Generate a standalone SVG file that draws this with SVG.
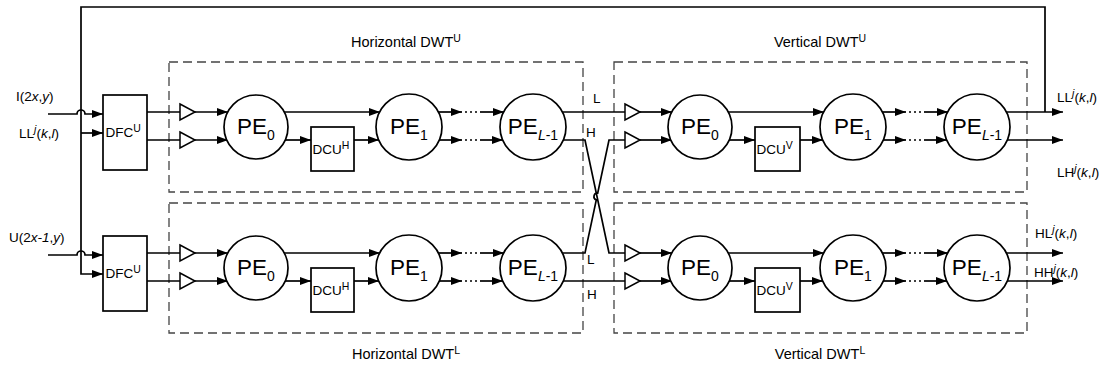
<svg xmlns="http://www.w3.org/2000/svg" width="1112" height="372" viewBox="0 0 1112 372">
<style>
text{font-family:"Liberation Sans",Arial,sans-serif;fill:#000}
.ln{fill:none;stroke:#000;stroke-width:1.7}
.ar{marker-end:url(#ah)}
.box{fill:#fff;stroke:#000;stroke-width:1.7}
.dash{fill:none;stroke:#444;stroke-width:1.3;stroke-dasharray:9 5}
.tri{fill:#fff;stroke:#000;stroke-width:1.5}
.pe{font-size:22.5px}
.sub{font-size:14px}
.lbl{font-size:13.5px}
.ttl{font-size:14.5px}
.sm{font-size:13.5px}
.sup{font-size:10.5px}
.dots{fill:none;stroke:#000;stroke-width:1.7;stroke-dasharray:2 3}
</style>
<defs>
<marker id="ah" markerWidth="12" markerHeight="9" refX="11" refY="4" orient="auto" markerUnits="userSpaceOnUse">
<path d="M0,0 L11,4 L0,8 z" fill="#000"/>
</marker>
</defs>

<!-- dashed blocks -->
<g id="hdwtu"><rect class="dash" x="169" y="62" width="414" height="130"/>
<text class="ttl" x="406" y="47" text-anchor="middle">Horizontal DWT<tspan class="sup" dy="-5">U</tspan></text></g>
<g id="vdwtu"><rect class="dash" x="614" y="62" width="413" height="130"/>
<text class="ttl" x="820" y="47" text-anchor="middle">Vertical DWT<tspan class="sup" dy="-5">U</tspan></text></g>
<g id="hdwtl"><rect class="dash" x="169" y="203" width="414" height="130"/>
<text class="ttl" x="406" y="359" text-anchor="middle">Horizontal DWT<tspan class="sup" dy="-5">L</tspan></text></g>
<g id="vdwtl"><rect class="dash" x="614" y="203" width="413" height="130"/>
<text class="ttl" x="820" y="359" text-anchor="middle">Vertical DWT<tspan class="sup" dy="-5">L</tspan></text></g>

<!-- connectors -->
<g id="connectors">
<path class="ln" d="M1045,112 V7 H81 V274 H103" marker-end="url(#ah)"/>
<path class="ln ar" d="M81,133 H103"/>
<path class="ln ar" d="M48,114 H77 A4,4 0 0 1 85,114 H103"/>
<path class="ln ar" d="M48,255 H77 A4,4 0 0 1 85,255 H103"/>
<!-- upper horizontal -->
<path class="ln" d="M147,112 H180"/>
<path class="ln" d="M147,140 H180"/>
<path class="ln ar" d="M195,112 H228"/>
<path class="ln ar" d="M195,140 H228"/>
<path class="ln ar" d="M284,112 H380"/>
<path class="ln ar" d="M285,140 H311"/>
<path class="ln ar" d="M354,140 H379"/>
<path class="ln ar" d="M438,112 H462"/>
<path class="dots" d="M465,112 H479"/>
<path class="ln ar" d="M480,112 H504"/>
<path class="ln ar" d="M439,140 H462"/>
<path class="dots" d="M465,140 H479"/>
<path class="ln ar" d="M480,140 H503"/>
<!-- lower horizontal -->
<path class="ln" d="M147,253 H180"/>
<path class="ln" d="M147,281 H180"/>
<path class="ln ar" d="M195,253 H228"/>
<path class="ln ar" d="M195,281 H228"/>
<path class="ln ar" d="M284,253 H380"/>
<path class="ln ar" d="M285,281 H311"/>
<path class="ln ar" d="M354,281 H379"/>
<path class="ln ar" d="M438,253 H462"/>
<path class="dots" d="M465,253 H479"/>
<path class="ln ar" d="M480,253 H504"/>
<path class="ln ar" d="M439,281 H462"/>
<path class="dots" d="M465,281 H479"/>
<path class="ln ar" d="M480,281 H503"/>
<!-- between horizontal and vertical -->
<path class="ln" d="M562,112 H625"/>
<path class="ln" d="M563,140 H585 L609,253 H625"/>
<path class="ln" d="M563,253 H585 L596.3,199.9 A3.5,3.5 0 0 1 597.7,193.1 L609,140 H625"/>
<path class="ln" d="M563,281 H625"/>
<!-- upper vertical -->
<path class="ln ar" d="M640,112 H672"/>
<path class="ln ar" d="M640,140 H672"/>
<path class="ln ar" d="M728,112 H824"/>
<path class="ln ar" d="M729,140 H755"/>
<path class="ln ar" d="M800,140 H823"/>
<path class="ln ar" d="M882,112 H906"/>
<path class="dots" d="M909,112 H923"/>
<path class="ln ar" d="M924,112 H948"/>
<path class="ln ar" d="M883,140 H906"/>
<path class="dots" d="M909,140 H923"/>
<path class="ln ar" d="M924,140 H947"/>
<path class="ln ar" d="M1006,112 H1063"/>
<path class="ln ar" d="M1007,140 H1063"/>
<!-- lower vertical -->
<path class="ln ar" d="M640,253 H672"/>
<path class="ln ar" d="M640,281 H672"/>
<path class="ln ar" d="M728,253 H824"/>
<path class="ln ar" d="M729,281 H755"/>
<path class="ln ar" d="M800,281 H823"/>
<path class="ln ar" d="M882,253 H906"/>
<path class="dots" d="M909,253 H923"/>
<path class="ln ar" d="M924,253 H948"/>
<path class="ln ar" d="M883,281 H906"/>
<path class="dots" d="M909,281 H923"/>
<path class="ln ar" d="M924,281 H947"/>
<path class="ln ar" d="M1006,253 H1063"/>
<path class="ln ar" d="M1007,281 H1063"/>
</g>

<!-- connector labels -->
<g id="conn-labels" class="sm">
<text x="593" y="103">L</text>
<text x="586" y="137">H</text>
<text x="587" y="264">L</text>
<text x="587" y="299">H</text>
</g>

<!-- inputs / outputs labels -->
<g id="io-labels" class="lbl">
<text x="16" y="101">I(2<tspan font-style="italic">x</tspan>,<tspan font-style="italic">y</tspan>)</text>
<text x="19" y="138">LL<tspan class="sup" font-style="italic" dy="-5">j</tspan><tspan dy="5">(</tspan><tspan font-style="italic">k</tspan>,<tspan font-style="italic">l</tspan>)</text>
<text x="9" y="242">U(2<tspan font-style="italic">x-1</tspan>,<tspan font-style="italic">y</tspan>)</text>
<text x="1057" y="102">LL<tspan class="sup" font-style="italic" dy="-5">j</tspan><tspan dy="5">(</tspan><tspan font-style="italic">k</tspan>,<tspan font-style="italic">l</tspan>)</text>
<text x="1057" y="177">LH<tspan class="sup" font-style="italic" dy="-5">j</tspan><tspan dy="5">(</tspan><tspan font-style="italic">k</tspan>,<tspan font-style="italic">l</tspan>)</text>
<text x="1035" y="238">HL<tspan class="sup" font-style="italic" dy="-5">j</tspan><tspan dy="5">(</tspan><tspan font-style="italic">k</tspan>,<tspan font-style="italic">l</tspan>)</text>
<text x="1034" y="277">HH<tspan class="sup" font-style="italic" dy="-5">j</tspan><tspan dy="5">(</tspan><tspan font-style="italic">k</tspan>,<tspan font-style="italic">l</tspan>)</text>
</g>

<!-- DFC nodes -->
<g id="dfc-u"><rect class="box" x="103" y="95" width="44" height="75"/>
<text class="lbl" x="105.5" y="137">DFC<tspan class="sup" dy="-5">U</tspan></text></g>
<g id="dfc-l"><rect class="box" x="103" y="236" width="44" height="75"/>
<text class="lbl" x="105.5" y="278">DFC<tspan class="sup" dy="-5">U</tspan></text></g>

<!-- buffers -->
<g id="buf-hu1"><polygon class="tri" points="180,104 195,112 180,120"/></g>
<g id="buf-hu2"><polygon class="tri" points="180,132 195,140 180,148"/></g>
<g id="buf-hl1"><polygon class="tri" points="180,245 195,253 180,261"/></g>
<g id="buf-hl2"><polygon class="tri" points="180,273 195,281 180,289"/></g>
<g id="buf-vu1"><polygon class="tri" points="625,104 640,112 625,120"/></g>
<g id="buf-vu2"><polygon class="tri" points="625,132 640,140 625,148"/></g>
<g id="buf-vl1"><polygon class="tri" points="625,245 640,253 625,261"/></g>
<g id="buf-vl2"><polygon class="tri" points="625,273 640,281 625,289"/></g>

<!-- DCU nodes -->
<g id="dcu-hu"><rect class="box" x="311" y="127" width="43" height="44"/>
<text class="lbl" x="312.5" y="154">DCU<tspan class="sup" dy="-5">H</tspan></text></g>
<g id="dcu-hl"><rect class="box" x="311" y="268" width="43" height="44"/>
<text class="lbl" x="312.5" y="295">DCU<tspan class="sup" dy="-5">H</tspan></text></g>
<g id="dcu-vu"><rect class="box" x="755" y="127" width="45" height="44"/>
<text class="lbl" x="756.5" y="154">DCU<tspan class="sup" dy="-5">V</tspan></text></g>
<g id="dcu-vl"><rect class="box" x="755" y="268" width="45" height="44"/>
<text class="lbl" x="756.5" y="295">DCU<tspan class="sup" dy="-5">V</tspan></text></g>

<!-- PE nodes -->
<g id="pe0-hu"><circle class="box" cx="256" cy="127" r="32"/><text class="pe" x="256" y="134" text-anchor="middle">PE<tspan class="sub" dy="6">0</tspan></text></g>
<g id="pe1-hu"><circle class="box" cx="409" cy="127" r="33"/><text class="pe" x="409" y="134" text-anchor="middle">PE<tspan class="sub" dy="6">1</tspan></text></g>
<g id="pel-hu"><circle class="box" cx="533" cy="127" r="33"/><text class="pe" x="533" y="134" text-anchor="middle">PE<tspan class="sub" dy="6" font-style="italic">L</tspan><tspan class="sub">-1</tspan></text></g>
<g id="pe0-hl"><circle class="box" cx="256" cy="268" r="32"/><text class="pe" x="256" y="275" text-anchor="middle">PE<tspan class="sub" dy="6">0</tspan></text></g>
<g id="pe1-hl"><circle class="box" cx="409" cy="268" r="33"/><text class="pe" x="409" y="275" text-anchor="middle">PE<tspan class="sub" dy="6">1</tspan></text></g>
<g id="pel-hl"><circle class="box" cx="533" cy="268" r="33"/><text class="pe" x="533" y="275" text-anchor="middle">PE<tspan class="sub" dy="6" font-style="italic">L</tspan><tspan class="sub">-1</tspan></text></g>
<g id="pe0-vu"><circle class="box" cx="700" cy="127" r="32"/><text class="pe" x="700" y="134" text-anchor="middle">PE<tspan class="sub" dy="6">0</tspan></text></g>
<g id="pe1-vu"><circle class="box" cx="853" cy="127" r="33"/><text class="pe" x="853" y="134" text-anchor="middle">PE<tspan class="sub" dy="6">1</tspan></text></g>
<g id="pel-vu"><circle class="box" cx="977" cy="127" r="33"/><text class="pe" x="977" y="134" text-anchor="middle">PE<tspan class="sub" dy="6" font-style="italic">L</tspan><tspan class="sub">-1</tspan></text></g>
<g id="pe0-vl"><circle class="box" cx="700" cy="268" r="32"/><text class="pe" x="700" y="275" text-anchor="middle">PE<tspan class="sub" dy="6">0</tspan></text></g>
<g id="pe1-vl"><circle class="box" cx="853" cy="268" r="33"/><text class="pe" x="853" y="275" text-anchor="middle">PE<tspan class="sub" dy="6">1</tspan></text></g>
<g id="pel-vl"><circle class="box" cx="977" cy="268" r="33"/><text class="pe" x="977" y="275" text-anchor="middle">PE<tspan class="sub" dy="6" font-style="italic">L</tspan><tspan class="sub">-1</tspan></text></g>
</svg>
